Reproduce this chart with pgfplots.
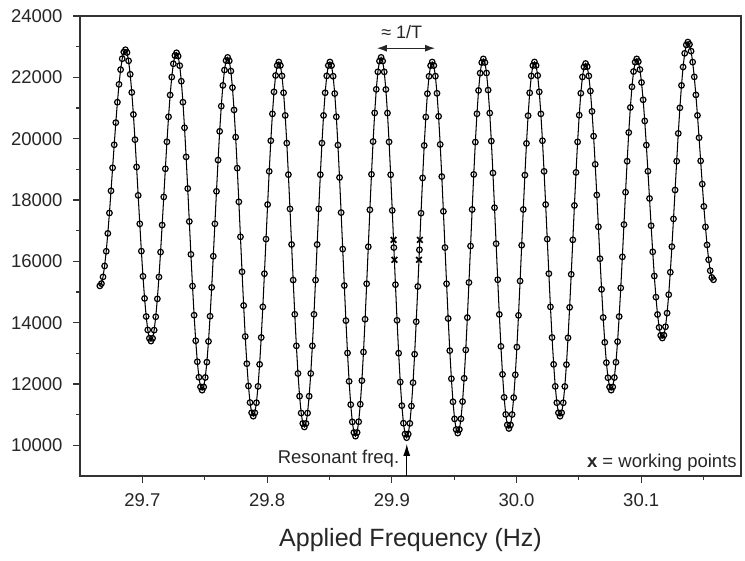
\documentclass[border=0pt]{standalone}
\usepackage{pgfplots}
\pgfplotsset{compat=1.18}
\usepackage{fontspec}
\setmainfont{Liberation Sans}
\usetikzlibrary{arrows.meta}
\begin{document}
\begin{tikzpicture}
\begin{axis}[
  scale only axis, width=661pt, height=460pt,
  xmin=29.65, xmax=30.18, ymin=9000, ymax=24000,
  scaled x ticks=false, scaled y ticks=false,
  xtick={29.7,29.8,29.9,30.0,30.1},
  xticklabels={29.7,29.8,29.9,30.0,30.1},
  minor xtick={29.75,29.85,29.95,30.05,30.15},
  ytick={10000,12000,14000,16000,18000,20000,22000,24000},
  yticklabels={10000,12000,14000,16000,18000,20000,22000,24000},
  minor ytick={11000,13000,15000,17000,19000,21000,23000},
  tick align=outside, xtick pos=bottom, ytick pos=left,
  major tick length=7pt, minor tick length=4pt,
  axis line style={line width=1.2pt, black!80},
  every tick/.style={black!80, line width=1.1pt},
  tick label style={font=\fontsize{18.5}{20}\selectfont, text=black!85},
  xticklabel style={yshift=-7pt},
  yticklabel style={xshift=-7pt},
  xlabel={Applied Frequency (Hz)},
  xlabel style={font=\fontsize{25}{28}\selectfont, text=black!85, at={(rel axis cs:0.5,0)}, anchor=base, yshift=-70pt},
  clip=false,
]
\addplot[black, line width=1.05pt, mark=o, mark size=2.8pt, mark options={fill=white, line width=1.2pt}] coordinates {
(29.66590,15200) (29.66718,15274) (29.66846,15493) (29.66974,15849) (29.67103,16328) (29.67231,16911) (29.67359,17577) (29.67487,18299) (29.67615,19050) (29.67743,19801) (29.67871,20523) (29.67999,21189) (29.68128,21772) (29.68256,22251) (29.68384,22607) (29.68512,22826) (29.68640,22900)
(29.68768,22809) (29.68896,22538) (29.69024,22099) (29.69153,21509) (29.69281,20789) (29.69409,19968) (29.69537,19077) (29.69665,18150) (29.69793,17223) (29.69921,16332) (29.70049,15511) (29.70178,14791) (29.70306,14201) (29.70434,13762) (29.70562,13491) (29.70690,13400)
(29.70818,13490) (29.70946,13758) (29.71074,14192) (29.71203,14777) (29.71331,15489) (29.71459,16301) (29.71587,17183) (29.71715,18100) (29.71843,19017) (29.71971,19899) (29.72099,20711) (29.72228,21423) (29.72356,22008) (29.72484,22442) (29.72612,22710) (29.72740,22800)
(29.72868,22694) (29.72996,22381) (29.73124,21873) (29.73253,21189) (29.73381,20356) (29.73509,19405) (29.73637,18373) (29.73765,17300) (29.73893,16227) (29.74021,15195) (29.74149,14244) (29.74278,13411) (29.74406,12727) (29.74534,12219) (29.74662,11906) (29.74790,11800)
(29.74918,11904) (29.75046,12213) (29.75174,12714) (29.75303,13389) (29.75431,14211) (29.75559,15149) (29.75687,16167) (29.75815,17225) (29.75943,18283) (29.76071,19301) (29.76199,20239) (29.76328,21061) (29.76456,21736) (29.76584,22237) (29.76712,22546) (29.76840,22650)
(29.76968,22538) (29.77096,22205) (29.77224,21664) (29.77353,20937) (29.77481,20050) (29.77609,19039) (29.77737,17941) (29.77865,16800) (29.77993,15659) (29.78121,14561) (29.78249,13550) (29.78378,12663) (29.78506,11936) (29.78634,11395) (29.78762,11062) (29.78890,10950)
(29.79018,11061) (29.79146,11390) (29.79274,11923) (29.79403,12641) (29.79531,13517) (29.79659,14515) (29.79787,15598) (29.79915,16725) (29.80043,17852) (29.80171,18935) (29.80299,19933) (29.80428,20809) (29.80556,21527) (29.80684,22060) (29.80812,22389) (29.80940,22500)
(29.81068,22386) (29.81196,22047) (29.81324,21497) (29.81453,20757) (29.81581,19856) (29.81709,18827) (29.81837,17711) (29.81965,16550) (29.82093,15389) (29.82221,14273) (29.82349,13244) (29.82478,12343) (29.82606,11603) (29.82734,11053) (29.82862,10714) (29.82990,10600)
(29.83118,10714) (29.83246,11053) (29.83374,11603) (29.83503,12343) (29.83631,13244) (29.83759,14273) (29.83887,15389) (29.84015,16550) (29.84143,17711) (29.84271,18827) (29.84399,19856) (29.84528,20757) (29.84656,21497) (29.84784,22047) (29.84912,22386) (29.85040,22500)
(29.85168,22383) (29.85296,22036) (29.85424,21472) (29.85553,20713) (29.85681,19789) (29.85809,18734) (29.85937,17590) (29.86065,16400) (29.86193,15210) (29.86321,14066) (29.86449,13011) (29.86578,12087) (29.86706,11328) (29.86834,10764) (29.86962,10417) (29.87090,10300)
(29.87218,10419) (29.87346,10770) (29.87474,11341) (29.87603,12109) (29.87731,13044) (29.87859,14112) (29.87987,15270) (29.88115,16475) (29.88243,17680) (29.88371,18838) (29.88499,19906) (29.88628,20841) (29.88756,21609) (29.88884,22180) (29.89012,22531) (29.89140,22650)
(29.89268,22531) (29.89396,22178) (29.89524,21605) (29.89653,20834) (29.89781,19895) (29.89909,18823) (29.90037,17660) (29.90165,16450) (29.90293,15240) (29.90421,14077) (29.90549,13005) (29.90678,12066) (29.90806,11295) (29.90934,10722) (29.91062,10369) (29.91190,10250)
(29.91318,10368) (29.91446,10716) (29.91574,11282) (29.91703,12044) (29.91831,12972) (29.91959,14031) (29.92087,15180) (29.92215,16375) (29.92343,17570) (29.92471,18719) (29.92599,19778) (29.92728,20706) (29.92856,21468) (29.92984,22034) (29.93112,22382) (29.93240,22500)
(29.93368,22384) (29.93496,22039) (29.93624,21480) (29.93753,20728) (29.93881,19811) (29.94009,18765) (29.94137,17630) (29.94265,16450) (29.94393,15270) (29.94521,14135) (29.94649,13089) (29.94778,12172) (29.94906,11420) (29.95034,10861) (29.95162,10516) (29.95290,10400)
(29.95418,10517) (29.95546,10864) (29.95674,11428) (29.95803,12187) (29.95931,13111) (29.96059,14166) (29.96187,15310) (29.96315,16500) (29.96443,17690) (29.96571,18834) (29.96699,19889) (29.96828,20813) (29.96956,21572) (29.97084,22136) (29.97212,22483) (29.97340,22600)
(29.97468,22484) (29.97596,22141) (29.97724,21585) (29.97853,20835) (29.97981,19922) (29.98109,18881) (29.98237,17750) (29.98365,16575) (29.98493,15400) (29.98621,14269) (29.98749,13228) (29.98878,12315) (29.99006,11565) (29.99134,11009) (29.99262,10666) (29.99390,10550)
(29.99518,10665) (29.99646,11005) (29.99774,11557) (29.99903,12300) (30.00031,13205) (30.00159,14238) (30.00287,15359) (30.00415,16525) (30.00543,17691) (30.00671,18812) (30.00799,19845) (30.00928,20750) (30.01056,21493) (30.01184,22045) (30.01312,22385) (30.01440,22500)
(30.01568,22389) (30.01696,22060) (30.01824,21527) (30.01953,20809) (30.02081,19933) (30.02209,18935) (30.02337,17852) (30.02465,16725) (30.02593,15598) (30.02721,14515) (30.02849,13517) (30.02978,12641) (30.03106,11923) (30.03234,11390) (30.03362,11061) (30.03490,10950)
(30.03618,11061) (30.03746,11388) (30.03874,11919) (30.04003,12634) (30.04131,13505) (30.04259,14500) (30.04387,15578) (30.04515,16700) (30.04643,17822) (30.04771,18900) (30.04899,19895) (30.05028,20766) (30.05156,21481) (30.05284,22012) (30.05412,22339) (30.05540,22450)
(30.05668,22348) (30.05796,22045) (30.05924,21553) (30.06053,20890) (30.06181,20083) (30.06309,19163) (30.06437,18164) (30.06565,17125) (30.06693,16086) (30.06821,15087) (30.06949,14167) (30.07078,13360) (30.07206,12697) (30.07334,12205) (30.07462,11902) (30.07590,11800)
(30.07718,11904) (30.07846,12211) (30.07974,12710) (30.08103,13382) (30.08231,14200) (30.08359,15134) (30.08487,16146) (30.08615,17200) (30.08743,18254) (30.08871,19266) (30.08999,20200) (30.09128,21018) (30.09256,21690) (30.09384,22189) (30.09512,22496) (30.09640,22600)
(30.09768,22513) (30.09896,22254) (30.10024,21833) (30.10153,21267) (30.10281,20578) (30.10409,19791) (30.10537,18938) (30.10665,18050) (30.10793,17162) (30.10921,16309) (30.11049,15522) (30.11178,14833) (30.11306,14267) (30.11434,13846) (30.11562,13587) (30.11690,13500)
(30.11818,13593) (30.11946,13867) (30.12074,14313) (30.12203,14913) (30.12331,15644) (30.12459,16479) (30.12587,17384) (30.12715,18325) (30.12843,19266) (30.12971,20171) (30.13099,21006) (30.13228,21737) (30.13356,22337) (30.13484,22783) (30.13612,23057) (30.13740,23150)
(30.13868,23076) (30.13996,22855) (30.14124,22497) (30.14253,22015) (30.14381,21428) (30.14509,20758) (30.14637,20031) (30.14765,19275) (30.14893,18519) (30.15021,17792) (30.15149,17122) (30.15278,16535) (30.15406,16053) (30.15534,15695) (30.15662,15474) (30.15790,15400)
};
\addplot[only marks, mark=x, mark size=4pt, mark options={line width=1.7pt}, black] coordinates {
(29.9014,16700) (29.9021,16050) (29.9225,16700) (29.9218,16050)
};
\draw[{Latex[length=10pt,width=7pt]}-{Latex[length=10pt,width=7pt]}, line width=1.3pt, black!85] (axis cs:29.8880,22950) -- (axis cs:29.9347,22950);
\node[anchor=base, font=\fontsize{18}{20}\selectfont, text=black!85] at (axis cs:29.9080,23252) {≈ 1/T};
\draw[-{Latex[length=12pt,width=7pt]}, line width=1.2pt, black] (axis cs:29.9120,9000) -- (axis cs:29.9120,10050);
\node[anchor=base east, inner sep=0pt, font=\fontsize{18.5}{20}\selectfont, text=black!85] at (axis cs:29.9061,9398) {Resonant freq.};
\node[anchor=base east, inner sep=0pt, font=\fontsize{18.5}{20}\selectfont, text=black!85] at (axis cs:30.1767,9291) {\textbf{x} = working points};
\coordinate (bbSW) at (rel axis cs:0,0);
\coordinate (bbNE) at (rel axis cs:1,1);
\end{axis}
\pgfresetboundingbox
\path[use as bounding box] ([shift={(-80pt,-84pt)}]bbSW) rectangle ([shift={(4pt,16pt)}]bbNE);
\end{tikzpicture}
\end{document}
